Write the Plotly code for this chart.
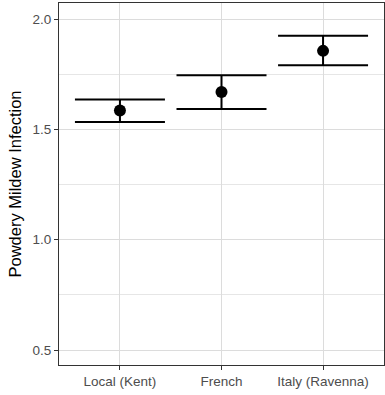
import plotly.graph_objects as go

categories = ["Local (Kent)", "French", "Italy (Ravenna)"]
means = [1.586, 1.670, 1.856]
upper = [1.636, 1.745, 1.924]
lower = [1.533, 1.592, 1.791]

err_plus = [u - m for u, m in zip(upper, means)]
err_minus = [m - l for m, l in zip(means, lower)]

fig = go.Figure()
fig.add_trace(go.Scatter(
    x=categories, y=means, mode="markers",
    marker=dict(color="black", size=12),
    error_y=dict(type="data", symmetric=False, array=err_plus, arrayminus=err_minus,
                 color="black", thickness=2, width=45),
    showlegend=False,
))

fig.update_layout(
    width=385, height=395,
    margin=dict(l=59, r=1, t=3, b=30),
    paper_bgcolor="white", plot_bgcolor="white",
    font=dict(family="Liberation Sans, Arial, sans-serif", color="#4d4d4d", size=13.5),
    xaxis=dict(
        type="category", range=[-0.6, 2.6],
        showgrid=True, gridcolor="#dcdcdc", gridwidth=1.3,
        showline=True, linecolor="#333333", linewidth=1, mirror=True,
        ticks="outside", ticklen=4, tickcolor="#333333",
        tickfont=dict(size=13.5, color="#4d4d4d"),
        zeroline=False,
    ),
    yaxis=dict(
        range=[0.432, 2.073],
        tickmode="array", tickvals=[0.5, 1.0, 1.5, 2.0], ticktext=["0.5", "1.0", "1.5", "2.0"],
        showgrid=True, gridcolor="#dcdcdc", gridwidth=1.3,
        minor=dict(tickmode="array", tickvals=[0.75, 1.25, 1.75], showgrid=True,
                   gridcolor="#e6e6e6", gridwidth=1, ticks=""),
        showline=True, linecolor="#333333", linewidth=1, mirror=True,
        ticks="outside", ticklen=4, tickcolor="#333333",
        tickfont=dict(size=13.5, color="#4d4d4d"),
        title=dict(text="Powdery Mildew Infection", font=dict(size=16.5, color="black"), standoff=6),
        zeroline=False,
    ),
)

fig.write_html("out.html")
